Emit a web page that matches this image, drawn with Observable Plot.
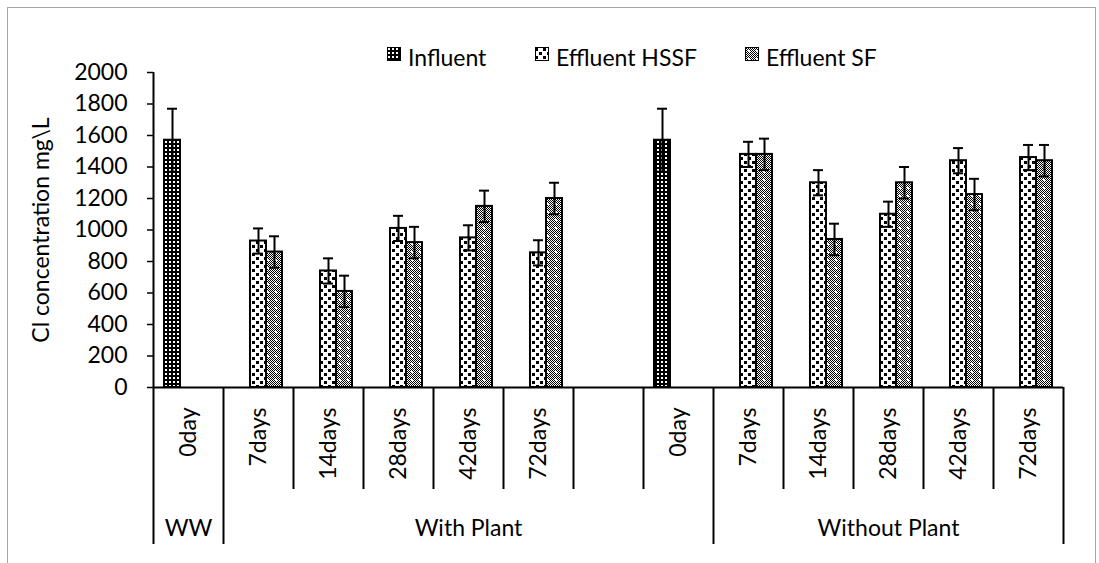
<!DOCTYPE html>
<html><head><meta charset="utf-8">
<script src="https://cdn.jsdelivr.net/npm/d3@7"></script>
<script src="https://cdn.jsdelivr.net/npm/@observablehq/plot@0.6"></script>
<style>
body{margin:0;background:#fff;}
#wrap{position:relative;width:1099px;height:563px;overflow:hidden;background:#fff;font-family:Lato,sans-serif;color:#000;}
#border{position:absolute;left:7px;top:7px;width:1089px;height:620px;border:1.5px solid #a6a6a6;box-sizing:border-box;}
#chart{position:absolute;left:0;top:0;}
.sw{position:absolute;top:47px;}
.lt{position:absolute;top:44px;font-size:23px;line-height:26px;white-space:nowrap;}
</style>
</head><body>
<svg width="0" height="0" style="position:absolute">
<defs>
<pattern id="pInf" patternUnits="userSpaceOnUse" width="4" height="4">
<rect width="4" height="4" fill="#000"/><rect x="1" y="1" width="2" height="2" fill="#fff"/>
</pattern>
<pattern id="pHssf" patternUnits="userSpaceOnUse" width="8" height="8">
<rect width="8" height="8" fill="#fff"/>
<rect x="0" y="1" width="3" height="3" fill="#000"/>
<rect x="4" y="5" width="3" height="3" fill="#000"/>
</pattern>
<pattern id="pSf" patternUnits="userSpaceOnUse" width="8" height="8">
<rect width="8" height="8" fill="#fff"/>
<path id="chk" fill="#000"/>
<rect x="3" y="3" width="2" height="2" fill="#fff"/>
</pattern>
</defs>
</svg>
<div id="wrap">
<div id="border"></div>
<div id="chart"></div>
<div id="legend"></div>
</div>
<script>
// ---- data ----
const categoryLabels = ["0day","7days","14days","28days","42days","72days","","0day","7days","14days","28days","42days","72days"];
const categoryGroups = ["WW","With Plant","With Plant","With Plant","With Plant","With Plant","With Plant","With Plant","Without Plant","Without Plant","Without Plant","Without Plant","Without Plant"];
const seriesNames = ["Influent","Effluent HSSF","Effluent SF"];
const influentValues = [1570,null,null,null,null,null,null,1570,null,null,null,null,null];
const influentErrors = [200,null,null,null,null,null,null,200,null,null,null,null,null];
const hssfValues = [null,930,740,1010,950,855,null,null,1480,1300,1100,1440,1460];
const hssfErrors = [null,80,80,80,80,80,null,null,80,80,80,80,80];
const sfValues = [null,860,610,920,1150,1200,null,null,1480,940,1300,1225,1440];
const sfErrors = [null,100,100,100,100,100,null,null,100,100,100,100,100];
const yTicks = [0,200,400,600,800,1000,1200,1400,1600,1800,2000];
const yLabel = "Cl concentration mg\\L";

// checker for SF pattern
let d = "";
for (let i = 0; i < 8; i++) for (let j = 0; j < 8; j++) if ((i + j) % 2 === 0) d += `M${i} ${j}h1v1h-1z`;
document.getElementById("chk").setAttribute("d", d);

const ids = categoryLabels.map((_, i) => String(i));
const cats = categoryLabels.map((label, i) => ({id: ids[i], label, group: categoryGroups[i]}));

function rows(values, errors) {
  return values.map((v, i) => ({id: ids[i], value: v, err: errors[i]})).filter(r => r.value != null);
}
const inf = rows(influentValues, influentErrors);
const hs = rows(hssfValues, hssfErrors);
const sf = rows(sfValues, sfErrors);

// group structure
const groupNames = [...new Set(categoryGroups)];
const groupInfo = groupNames.map(g => {
  const idx = categoryGroups.map((c, i) => c === g ? i : -1).filter(i => i >= 0);
  return {name: g, first: ids[idx[0]], mid: ids[idx[Math.floor(idx.length / 2)]], last: ids[idx[idx.length - 1]]};
});
const groupStarts = new Set(groupInfo.map(g => g.first));
const shortSeps = cats.filter(c => !groupStarts.has(c.id));
const longSeps = cats.filter(c => groupStarts.has(c.id) && c.id !== ids[0]);

const half = 35;
const fills = ["url(#pInf)", "url(#pHssf)", "url(#pSf)"];
const slot = [{l: 11, r: 43, dx: -16}, {l: 27, r: 27, dx: 0}, {l: 43, r: 11, dx: 16}];
const capIn = [{l: 14, r: 46}, {l: 30, r: 30}, {l: 46, r: 14}];

function seriesMarks(data, k) {
  return [
    Plot.barY(data, {x: "id", y: "value", fill: fills[k], stroke: "#000", strokeWidth: 2, insetLeft: slot[k].l, insetRight: slot[k].r}),
    Plot.ruleX(data, {x: "id", y1: r => r.value - r.err, y2: r => r.value + r.err, dx: slot[k].dx, stroke: "#000", strokeWidth: 2}),
    Plot.tickY(data, {x: "id", y: r => r.value + r.err, insetLeft: capIn[k].l, insetRight: capIn[k].r, stroke: "#000", strokeWidth: 2}),
    Plot.tickY(data, {x: "id", y: r => r.value - r.err, insetLeft: capIn[k].l, insetRight: capIn[k].r, stroke: "#000", strokeWidth: 2})
  ];
}

const chart = Plot.plot({
  width: 1099, height: 563,
  marginLeft: 153, marginRight: 36, marginTop: 72, marginBottom: 176,
  style: {fontFamily: "Lato, sans-serif", fontSize: "23px", color: "#000", background: "transparent", overflow: "visible"},
  x: {domain: ids, padding: 0, axis: null},
  y: {domain: [0, 2000], axis: null},
  marks: [
    Plot.axisY({ticks: yTicks, tickSize: 6, tickPadding: 20, tickFormat: v => String(v), label: null, fontSize: 23, strokeWidth: 1.5}),
    ...seriesMarks(inf, 0),
    ...seriesMarks(hs, 1),
    ...seriesMarks(sf, 2),
    Plot.ruleY([0], {stroke: "#000", strokeWidth: 2}),
    // y axis line + first long separator
    Plot.ruleX([ids[0]], {x: d => d, dx: -half, insetBottom: -157, stroke: "#000", strokeWidth: 2}),
    // last long separator
    Plot.ruleX([ids[ids.length - 1]], {x: d => d, dx: half, insetTop: 315, insetBottom: -157, stroke: "#000", strokeWidth: 2}),
    Plot.ruleX(longSeps, {x: "id", dx: -half, insetTop: 315, insetBottom: -157, stroke: "#000", strokeWidth: 2}),
    Plot.ruleX(shortSeps, {x: "id", dx: -half, insetTop: 315, insetBottom: -102, stroke: "#000", strokeWidth: 2}),
    Plot.text(cats, {x: "id", text: "label", frameAnchor: "bottom", rotate: -90, textAnchor: "end", lineAnchor: "middle", dy: 20, fontSize: 23}),
    Plot.text(groupInfo, {x: "mid", text: "name", frameAnchor: "bottom", lineAnchor: "middle", dy: 141, fontSize: 23}),
    Plot.text([yLabel], {text: d => d, frameAnchor: "left", textAnchor: "middle", lineAnchor: "middle", rotate: -90, dx: -112, fontSize: 23})
  ]
});
document.getElementById("chart").appendChild(chart);

// legend
const legendX = [387, 535, 745];
const lg = document.getElementById("legend");
seriesNames.forEach((name, k) => {
  const sw = document.createElementNS("http://www.w3.org/2000/svg", "svg");
  sw.setAttribute("width", 15); sw.setAttribute("height", 15);
  sw.setAttribute("class", "sw");
  sw.style.left = legendX[k] + "px";
  sw.innerHTML = `<rect x="0.5" y="0.5" width="13" height="13" fill="${fills[k]}" stroke="#000" stroke-width="1"/>`;
  lg.appendChild(sw);
  const t = document.createElement("div");
  t.className = "lt";
  t.style.left = (legendX[k] + 21) + "px";
  t.textContent = name;
  lg.appendChild(t);
});
</script>
</body></html>
